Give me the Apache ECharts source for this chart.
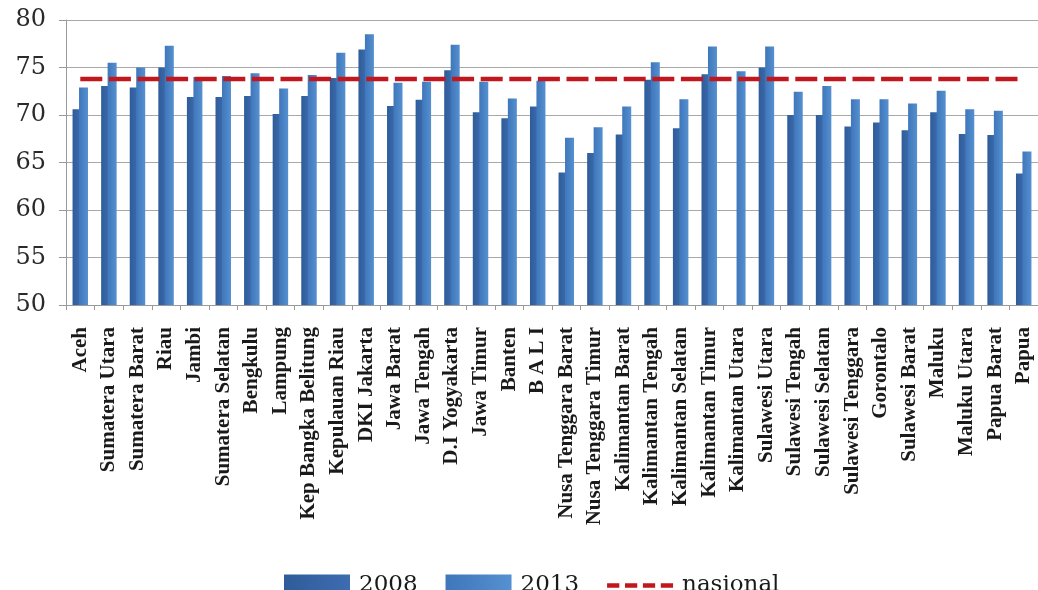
<!DOCTYPE html>
<html>
<head>
<meta charset="utf-8">
<script src="https://cdn.jsdelivr.net/npm/echarts@6/dist/echarts.min.js"></script>
<style>
html,body{margin:0;padding:0;background:#fff;}
#chart{width:1038px;height:590px;}
</style>
</head>
<body>
<div id="chart"></div>
<script>
var categories = ["Aceh","Sumatera Utara","Sumatera Barat","Riau","Jambi","Sumatera Selatan","Bengkulu","Lampung","Kep Bangka Belitung","Kepulauan Riau","DKI Jakarta","Jawa Barat","Jawa Tengah","D.I Yogyakarta","Jawa Timur","Banten","B A L I","Nusa Tenggara Barat","Nusa Tenggara Timur","Kalimantan Barat","Kalimantan Tengah","Kalimantan Selatan","Kalimantan Timur","Kalimantan Utara","Sulawesi Utara","Sulawesi Tengah","Sulawesi Selatan","Sulawesi Tenggara","Gorontalo","Sulawesi Barat","Maluku","Maluku Utara","Papua Barat","Papua"];
var values2008 = [70.6,73.05,72.9,75.0,71.9,71.9,72.0,70.1,72.0,73.9,76.9,70.95,71.6,74.7,70.3,69.65,70.9,63.95,66.0,67.95,73.7,68.6,74.3,null,75.0,70.0,70.0,68.8,69.2,68.4,70.3,68.0,67.9,63.85];
var values2013 = [72.9,75.5,75.0,77.3,74.0,74.1,74.4,72.8,74.2,76.55,78.5,73.4,73.5,77.4,73.5,71.75,73.6,67.6,68.7,70.9,75.55,71.65,77.2,74.6,77.2,72.45,73.05,71.65,71.65,71.2,72.55,70.6,70.45,66.15];
var nasional = [73.8,73.8,73.8,73.8,73.8,73.8,73.8,73.8,73.8,73.8,73.8,73.8,73.8,73.8,73.8,73.8,73.8,73.8,73.8,73.8,73.8,73.8,73.8,73.8,73.8,73.8,73.8,73.8,73.8,73.8,73.8,73.8,73.8,73.8];
var seriesNames = ["2008","2013","nasional"];

function grad(a,b){
  return new echarts.graphic.LinearGradient(0,0,1,0,[{offset:0,color:a},{offset:1,color:b}]);
}

var dashIcon = 'path://M0,0L13,0L13,5L0,5Z M19,0L32,0L32,5L19,5Z M38,0L51,0L51,5L38,5Z M57,0L70,0L70,5L57,5Z';

var chart = echarts.init(document.getElementById('chart'));
chart.setOption({
  animation:false,
  backgroundColor:'#ffffff',
  grid:{left:66,right:0,top:20,bottom:285,containLabel:false},
  legend:{
    left:279, top:569,
    itemWidth:66, itemHeight:22, itemGap:28,
    symbolKeepAspect:true,
    textStyle:{fontFamily:'DejaVu Serif',fontSize:23,color:'#1a1a1a',padding:[0,0,0,4]},
    data:[
      {name:seriesNames[0], icon:'rect'},
      {name:seriesNames[1], icon:'rect'},
      {name:seriesNames[2], icon:dashIcon, itemStyle:{color:'#c0181e'}}
    ]
  },
  xAxis:{
    type:'category',
    data:categories,
    boundaryGap:true,
    axisLine:{lineStyle:{color:'#9a9a9a',width:1}},
    axisTick:{show:true,length:5,lineStyle:{color:'#9a9a9a'}},
    axisLabel:{rotate:90,margin:22,interval:0,fontFamily:'Liberation Serif',fontWeight:'bold',fontSize:21,color:'#1a1a1a'}
  },
  yAxis:{
    type:'value',
    min:50,max:80,interval:5,
    axisLine:{show:true,lineStyle:{color:'#9a9a9a',width:1}},
    axisTick:{show:true,length:7,lineStyle:{color:'#9a9a9a'}},
    splitLine:{lineStyle:{color:'#a8a8a8',width:1}},
    axisLabel:{margin:20,fontFamily:'DejaVu Serif',fontSize:24,color:'#2a2a2a'}
  },
  series:[
    {name:seriesNames[0],type:'bar',data:values2008,barWidth:9,barGap:'-28%',
     itemStyle:{color:grad('#2f5c99','#3d6cb0')}},
    {name:seriesNames[1],type:'bar',data:values2013,barWidth:9,
     itemStyle:{color:grad('#3f77ba','#5590d0')}},
    {name:seriesNames[2],type:'line',data:nasional,symbol:'none',z:5,
     lineStyle:{color:'#c0181e',width:4.5,type:[22,6.6],cap:'butt'},
     itemStyle:{color:'#c0181e'}}
  ]
});
</script>
</body>
</html>
